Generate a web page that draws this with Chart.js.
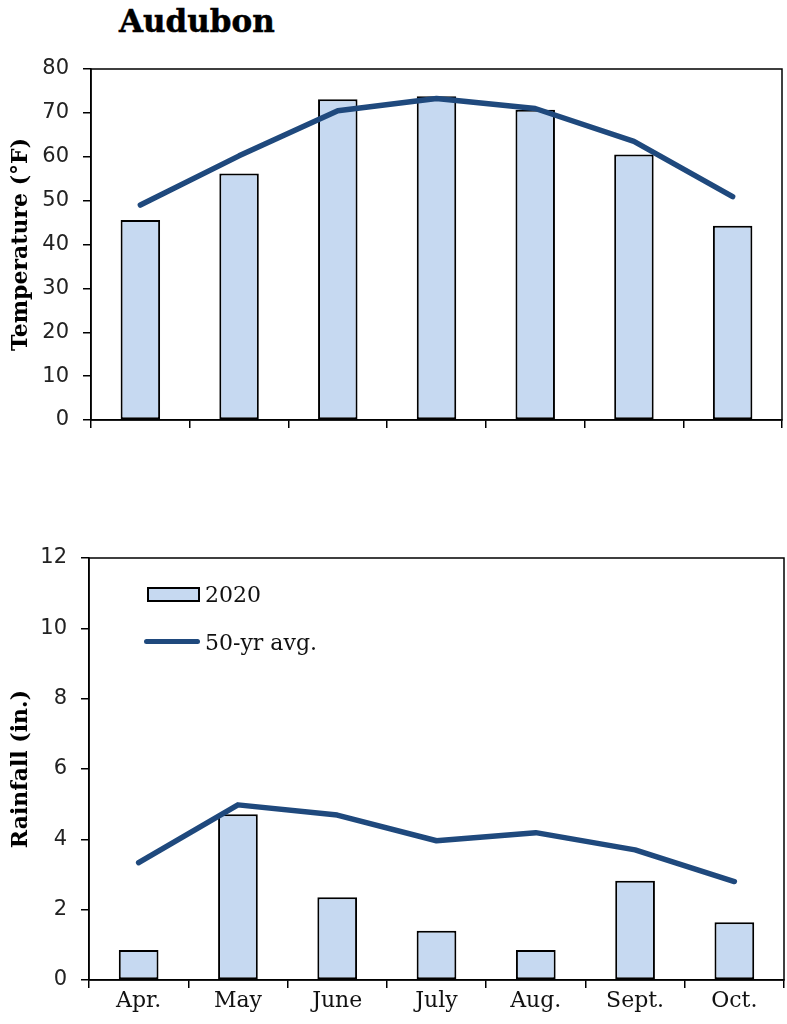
<!DOCTYPE html>
<html>
<head>
<meta charset="utf-8">
<script src="https://cdn.jsdelivr.net/npm/chart.js@4.4.1/dist/chart.umd.min.js"></script>
<style>
  html, body { margin: 0; padding: 0; background: #fff; }
  #page { position: relative; width: 787px; height: 1024px; overflow: hidden; }
  #title { position: absolute; left: 119px; top: 3px; font: bold 31px "DejaVu Serif"; color: #000; -webkit-text-stroke: 0.5px #000; }
  .wrap { position: absolute; left: 0; width: 787px; }
  #tempWrap { top: 0; height: 460px; }
  #rainWrap { top: 500px; height: 524px; }
  #legend { position: absolute; left: 144px; top: 570px; font: 22px "DejaVu Serif"; color: #111; }
  .row { display: flex; align-items: center; height: 48px; }
  .mark { width: 58px; height: 14px; position: relative; margin-right: 3px; }
  .box { position: absolute; left: 3px; top: 0; width: 49px; height: 11px; border: 2px solid #000; }
  .line { position: absolute; left: 0; top: 4px; width: 56px; height: 5px; border-radius: 3px; }
</style>
</head>
<body>
<div id="page">
  <div id="title">Audubon</div>
  <div class="wrap" id="tempWrap"><canvas id="tempChart" width="787" height="460"></canvas></div>
  <div class="wrap" id="rainWrap"><canvas id="rainChart" width="787" height="524"></canvas></div>
  <div id="legend"></div>
</div>
<script>
const months = ["Apr.", "May", "June", "July", "Aug.", "Sept.", "Oct."];

// Temperature (°F)
const temp2020 = [45.6, 56.2, 73.1, 73.8, 70.7, 60.5, 44.3];
const tempAvg = [49.0, 60.2, 70.5, 73.3, 71.0, 63.5, 50.9];
const tempTicks = [0, 10, 20, 30, 40, 50, 60, 70, 80];

// Rainfall (in.)
const rain2020 = [0.85, 4.71, 2.35, 1.40, 0.85, 2.82, 1.64];
const rainAvg = [3.34, 4.98, 4.69, 3.96, 4.19, 3.70, 2.80];
const rainTicks = [0, 2, 4, 6, 8, 10, 12];

const seriesLabels = ["2020", "50-yr avg."];

const barFill = "#c6d9f1";
const lineColor = "#1f497d";

// frame round the plot area (top and right edges)
const framePlugin = {
  id: "frame",
  afterDraw(chart) {
    const { ctx, chartArea: a } = chart;
    ctx.save();
    ctx.strokeStyle = "#000";
    ctx.lineWidth = 1.5;
    ctx.strokeRect(a.left, a.top, a.right - a.left, a.bottom - a.top);
    ctx.restore();
  },
};

const makeChart = (id, bars, avg, ticks, yTitle, opts) => {
  const ctx = document.getElementById(id).getContext("2d");
  return new Chart(ctx, {
    type: "bar",
    data: {
      labels: months,
      datasets: [
        {
          type: "line",
          label: seriesLabels[1],
          data: avg,
          borderColor: lineColor,
          borderWidth: 5.5,
          pointRadius: 0,
          borderCapStyle: "round",
          borderJoinStyle: "round",
          tension: 0,
          order: 1,
        },
        {
          type: "bar",
          label: seriesLabels[0],
          data: bars,
          backgroundColor: barFill,
          borderColor: "#000",
          borderWidth: 2,
          borderSkipped: false,
          barPercentage: 0.4,
          categoryPercentage: 1,
          order: 2,
        },
      ],
    },
    options: {
      responsive: false,
      animation: false,
      layout: { padding: { top: opts.top, right: opts.right, left: 0, bottom: 0 } },
      plugins: { legend: { display: false }, tooltip: { enabled: false } },
      scales: {
        x: {
          offset: true,
          grid: {
            offset: true,
            drawOnChartArea: false,
            drawTicks: true,
            tickLength: 8,
            color: "#000",
            lineWidth: 1.5,
          },
          border: { color: "#000", width: 1.5 },
          ticks: {
            display: opts.showX,
            padding: 0,
            color: "#111",
            font: { family: "DejaVu Serif", size: 22 },
          },
          afterFit: (s) => { s.height = opts.xh; },
        },
        y: {
          min: ticks[0],
          max: ticks[ticks.length - 1],
          afterBuildTicks: (s) => { s.ticks = ticks.map((v) => ({ value: v })); },
          grid: {
            drawOnChartArea: false,
            drawTicks: true,
            tickLength: 8,
            color: "#000",
            lineWidth: 1.5,
          },
          border: { color: "#000", width: 1.5 },
          ticks: {
            padding: 14,
            color: "#222",
            font: { family: "DejaVu Sans", size: 21 },
          },
          title: {
            display: true,
            text: yTitle,
            color: "#000",
            padding: { top: 8, bottom: 0 },
            font: { family: "DejaVu Serif", size: 22, weight: "bold" },
          },
          afterFit: (s) => { s.width = opts.yw; },
        },
      },
    },
    plugins: [framePlugin],
  });
};

const tempChart = makeChart("tempChart", temp2020, tempAvg, tempTicks, "Temperature (°F)",
  { top: 69, right: 5, xh: 40, yw: 91, showX: false });
const rainChart = makeChart("rainChart", rain2020, rainAvg, rainTicks, "Rainfall (in.)",
  { top: 58, right: 3, xh: 44, yw: 89, showX: true });

// legend built from the rainfall chart's datasets
const legend = document.getElementById("legend");
const sets = rainChart.data.datasets;
[sets[1], sets[0]].forEach((ds) => {
  const row = document.createElement("div");
  row.className = "row";
  const mark = document.createElement("div");
  mark.className = "mark";
  const sw = document.createElement("div");
  if (ds.type === "bar") {
    sw.className = "box";
    sw.style.background = ds.backgroundColor;
  } else {
    sw.className = "line";
    sw.style.background = ds.borderColor;
  }
  mark.appendChild(sw);
  const txt = document.createElement("span");
  txt.textContent = ds.label;
  row.appendChild(mark);
  row.appendChild(txt);
  legend.appendChild(row);
});
</script>
</body>
</html>
